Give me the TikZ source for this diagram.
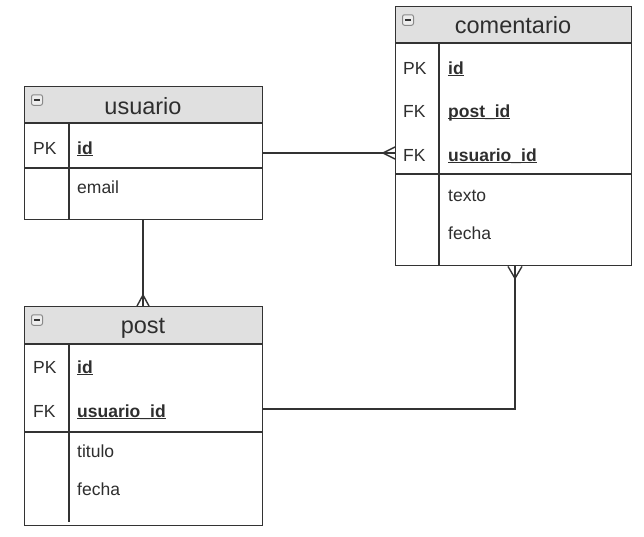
\documentclass[tikz,border=0pt]{standalone}
\usepackage{fontspec}
\setmainfont{Liberation Sans}
\usetikzlibrary{calc}
\definecolor{ln}{HTML}{333333}
\definecolor{hd}{HTML}{E0E0E0}
\definecolor{tx}{HTML}{2E2E2E}
\definecolor{icb}{HTML}{8A8A8A}
\definecolor{icf}{HTML}{EDEDED}
\newcommand\keyul[1]{\setbox0\hbox{#1}\rlap{\rule[-2.4pt]{\wd0}{1.2pt}}\box0}
\tikzset{
  tbl/.style={draw=ln, line width=1.4pt, rectangle, inner sep=0pt, anchor=north west},
  hdr/.style={fill=hd},
  sep/.style={draw=ln, line width=1.4pt},
  conn/.style={draw=ln, line width=1.4pt},
  ttl/.style={text=tx, inner sep=0pt, anchor=base, font=\fontsize{23.5}{26}\selectfont},
  fld/.style={text=tx, inner sep=0pt, anchor=base west, font=\fontsize{17.5}{20}\selectfont},
  keyf/.style={fld, font=\fontsize{17.5}{20}\selectfont\bfseries},
  icon/.style={draw=icb, fill=icf, line width=1pt, rounded corners=2pt, minimum width=11pt, minimum height=10.5pt, inner sep=0pt}
}
\newcommand\minusicon[2]{%
  \node[icon] (#1) at (#2) {};
  \draw[ln, line width=1.5pt] ($(#1.center)+(-3.2,0)$) -- ($(#1.center)+(3.2,0)$);
}
\begin{document}
\begin{tikzpicture}[x=1pt,y=-1pt]
\useasboundingbox (0,0) rectangle (644,536);
\fill[white] (0,0) rectangle (644,536);

% ---------- usuario ----------
\fill[hd] (24,86) rectangle (262,123);
\node[tbl, minimum width=238pt, minimum height=133pt] (usu) at (24,86) {};
\draw[sep] (24,123) -- (262,123);
\draw[sep] (24,168) -- (262,168);
\draw[sep] (69,123) -- (69,219);
\minusicon{usuicon}{37,100}
\node[ttl] (usut) at (143,114) {usuario};
\node[fld] (usupk) at (33,154) {PK};
\node[keyf] (usuid) at (77,154) {\keyul{id}};
\node[fld] (usuemail) at (77,193) {email};

% ---------- comentario ----------
\fill[hd] (395,6) rectangle (631,43);
\node[tbl, minimum width=236pt, minimum height=259pt] (com) at (395,6) {};
\draw[sep] (395,43) -- (631,43);
\draw[sep] (395,174) -- (631,174);
\draw[sep] (439,43) -- (439,265);
\minusicon{comicon}{408,20}
\node[ttl] (comt) at (513,33) {comentario};
\node[fld] (compk) at (403,74) {PK};
\node[keyf] (comid) at (448,74) {\keyul{id}};
\node[fld] (comfk1) at (403,117) {FK};
\node[keyf] (compid) at (448,117) {\keyul{post\_id}};
\node[fld] (comfk2) at (403,161) {FK};
\node[keyf] (comuid) at (448,161) {\keyul{usuario\_id}};
\node[fld] (comtexto) at (448,201) {texto};
\node[fld] (comfecha) at (448,239) {fecha};

% ---------- post ----------
\fill[hd] (24,306) rectangle (262,344);
\node[tbl, minimum width=238pt, minimum height=219pt] (pst) at (24,306) {};
\draw[sep] (24,344) -- (262,344);
\draw[sep] (24,432) -- (262,432);
\draw[sep] (69,344) -- (69,522);
\minusicon{psticon}{37,320}
\node[ttl] (pstt) at (143,333) {post};
\node[fld] (pstpk) at (33,373) {PK};
\node[keyf] (pstid) at (77,373) {\keyul{id}};
\node[fld] (pstfk) at (33,417) {FK};
\node[keyf] (pstuid) at (77,417) {\keyul{usuario\_id}};
\node[fld] (psttitulo) at (77,457) {titulo};
\node[fld] (pstfecha) at (77,495) {fecha};

% ---------- connectors ----------
\coordinate (r1) at (0,153);
\coordinate (r2) at (0,409);
\coordinate (c2) at (143,0);
\coordinate (c3) at (515,0);

% usuario.id -> comentario.usuario_id (many)
\draw[conn] (usu.east |- r1) -- (com.west |- r1);
\draw[conn] ($(com.west |- r1)+(-12,0)$) -- ($(com.west |- r1)+(0,-6)$);
\draw[conn] ($(com.west |- r1)+(-12,0)$) -- ($(com.west |- r1)+(0,6)$);

% usuario -> post (many)
\draw[conn] (usu.south -| c2) -- (pst.north -| c2);
\draw[conn] ($(pst.north -| c2)+(0,-11)$) -- ($(pst.north -| c2)+(-6,0)$);
\draw[conn] ($(pst.north -| c2)+(0,-11)$) -- ($(pst.north -| c2)+(6,0)$);

% post -> comentario (many)
\draw[conn] (pst.east |- r2) -| (com.south -| c3);
\draw[conn] ($(com.south -| c3)+(0,12)$) -- ($(com.south -| c3)+(-7,0)$);
\draw[conn] ($(com.south -| c3)+(0,12)$) -- ($(com.south -| c3)+(7,0)$);
\end{tikzpicture}
\end{document}
